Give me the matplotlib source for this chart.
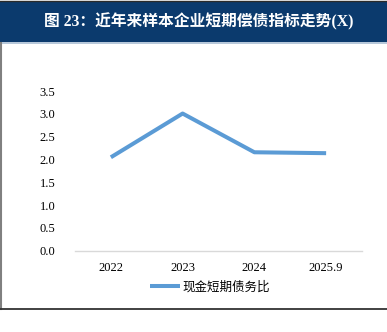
import matplotlib
matplotlib.use('Agg')
import matplotlib.pyplot as plt
from matplotlib.patches import Rectangle
from matplotlib.lines import Line2D

plt.rcParams['font.family'] = ['Liberation Serif', 'Noto Sans CJK SC']

# cash / short-term debt ratio
periods = ['2022', '2023', '2024', '2025.9']
cash_ratio = [2.05, 3.01, 2.16, 2.14]
yticks = [0.0, 0.5, 1.0, 1.5, 2.0, 2.5, 3.0, 3.5]

title = '图 23：近年来样本企业短期偿债指标走势(X)'
series_name = '现金短期债务比'

W, H = 387, 332
fig = plt.figure(figsize=(W / 100, H / 100), dpi=100)
fig.patch.set_facecolor('white')

# header bar
fig.patches.append(Rectangle((0, (H - 42) / H), 1, 41 / H, transform=fig.transFigure,
                             facecolor='#0B3A6D', edgecolor='none', zorder=0))
fig.lines.append(Line2D([0, 1], [(H - 0.5) / H] * 2, transform=fig.transFigure,
                        color='#2B2B2B', lw=1.0))
fig.lines.append(Line2D([0, 1], [(H - 42.5) / H] * 2, transform=fig.transFigure,
                        color='#A9BDD3', lw=1.2))
fig.text(199 / W, (H - 22) / H, title, color='white', fontsize=11.3, fontweight='bold',
         ha='center', va='center')

# frame lines
fig.lines.append(Line2D([0.8 / W, 0.8 / W], [(H - 309) / H, (H - 43) / H],
                        transform=fig.transFigure, color='#808080', lw=1.5))
fig.lines.append(Line2D([0, 1], [(H - 309) / H] * 2, transform=fig.transFigure,
                        color='#333333', lw=1.3))

ax = fig.add_axes([75 / W, (H - 250.7) / H, 287 / W, 159.5 / H])
x = range(len(periods))
ax.plot(x, cash_ratio, color='#5B9BD5', lw=2.9, solid_capstyle='butt',
        label=series_name)
ax.set_xlim(-0.5, len(periods) - 0.5)
ax.set_ylim(0, 3.5)
ax.set_xticks(list(x))
ax.set_xticklabels(periods, fontsize=9)
ax.set_yticks(yticks)
ax.set_yticklabels([f'{v:.1f}' for v in yticks], fontsize=9)
ax.tick_params(length=0, pad=8)
ax.tick_params(axis='y', pad=14)
for s in ['top', 'right', 'left']:
    ax.spines[s].set_visible(False)
ax.spines['bottom'].set_color('#D9D9D9')
ax.spines['bottom'].set_linewidth(1.0)

leg = fig.legend(loc='center', bbox_to_anchor=(210 / W, (H - 287) / H), frameon=False,
                 prop={'family': ['Noto Sans CJK SC'], 'size': 9},
                 handlelength=2.4, handletextpad=0.2)

fig.savefig('out.png', dpi=100)
